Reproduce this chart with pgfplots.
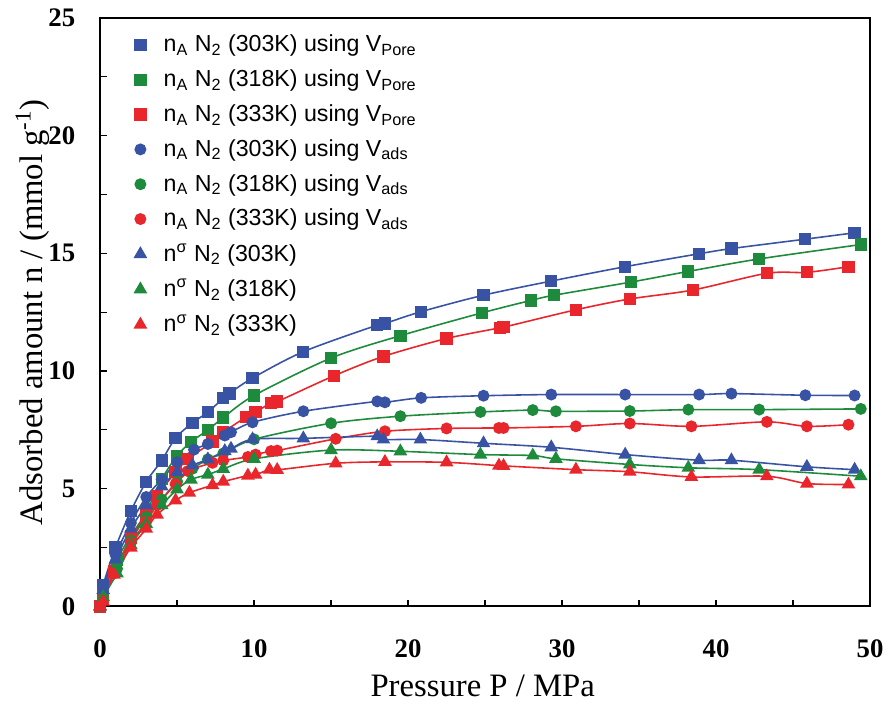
\documentclass[border=0pt]{standalone}
\usepackage{fontspec}
\setmainfont{Liberation Serif}
\newfontfamily\legendfont{Liberation Sans}
\usepackage{pgfplots}
\pgfplotsset{compat=1.18}
\usepackage{pgfplotstable}
\definecolor{cb}{HTML}{3953A4}
\definecolor{cg}{HTML}{1E8A3C}
\definecolor{cr}{HTML}{E8262B}

\pgfplotstableread{
x y
0 0
0.2 0.9
1.0 2.5
2.0 4.05
3.0 5.3
4.0 6.2
4.9 7.15
6.0 7.8
7.0 8.25
8.0 8.85
8.4 9.05
9.9 9.7
13.2 10.82
18.0 11.95
18.5 12.02
20.85 12.52
24.9 13.22
29.3 13.82
34.1 14.43
38.9 14.98
41.0 15.2
45.8 15.6
49.0 15.87
}\bsq
\pgfplotstableread{
x y
0 0
0.2 0.6
1.1 2.0
2.0 3.0
3.0 4.0
4.0 5.4
5.0 6.4
5.9 6.98
7.0 7.5
8.0 8.02
10.0 8.96
15.0 10.55
19.5 11.5
24.8 12.47
28.0 13.0
29.5 13.22
34.5 13.78
38.2 14.23
42.8 14.76
49.4 15.37
}\gsq
\pgfplotstableread{
x y
0 0
0.2 0.4
0.9 1.5
2.0 2.9
3.0 3.9
3.7 4.7
4.9 5.7
5.7 6.25
7.3 7.0
8.0 7.4
9.5 8.05
10.1 8.25
11.1 8.65
11.5 8.7
15.2 9.8
18.4 10.62
22.5 11.38
25.95 11.83
26.2 11.86
30.9 12.6
34.4 13.06
38.5 13.44
43.3 14.15
45.9 14.19
48.6 14.43
}\rsq
\pgfplotstableread{
x y
0 0
0.2 0.8
1.0 2.2
2.0 3.55
3.0 4.65
4.0 5.4
5.0 6.13
6.1 6.66
7.0 6.9
8.1 7.26
8.5 7.4
9.9 7.82
13.2 8.29
18.0 8.71
18.5 8.67
20.85 8.86
24.9 8.95
29.3 9.0
34.1 9.0
38.9 9.0
41.0 9.04
45.8 8.97
49.0 8.96
}\bci
\pgfplotstableread{
x y
0 0
0.2 0.5
1.1 1.6
2.0 2.8
3.0 3.8
4.0 4.55
5.0 5.3
6.0 5.85
7.0 6.25
8.0 6.5
10.0 7.1
15.0 7.78
19.5 8.08
24.7 8.26
28.1 8.34
29.6 8.29
34.4 8.3
38.2 8.36
42.8 8.36
49.4 8.39
}\gci
\pgfplotstableread{
x y
0 0
0.2 0.35
0.9 1.4
2.0 2.7
3.0 3.6
3.7 4.3
4.9 5.2
5.7 5.75
7.3 6.1
8.0 6.2
9.6 6.35
10.1 6.45
11.1 6.6
11.5 6.62
15.3 7.12
18.5 7.44
22.5 7.56
25.9 7.58
26.2 7.58
30.9 7.65
34.4 7.77
38.4 7.65
43.3 7.84
45.9 7.65
48.6 7.72
}\rci
\pgfplotstableread{
x y
0 0
0.2 0.7
1.0 2.0
2.0 3.3
3.0 4.3
4.0 5.1
5.0 5.7
6.0 6.0
7.0 6.25
8.1 6.6
8.5 6.7
9.9 7.1
13.2 7.14
18.0 7.23
18.4 7.09
20.8 7.09
24.9 6.93
29.3 6.76
34.1 6.45
38.9 6.21
41.0 6.21
45.9 5.93
49.0 5.81
}\btr
\pgfplotstableread{
x y
0 0
0.2 0.4
1.1 1.4
2.0 2.6
3.0 3.5
4.0 4.3
5.0 4.97
5.9 5.39
7.0 5.6
8.0 5.84
10.0 6.27
15.0 6.64
19.5 6.59
24.7 6.45
28.1 6.41
29.6 6.27
34.4 6.03
38.2 5.89
42.8 5.81
49.4 5.53
}\gtr
\pgfplotstableread{
x y
0 0
0.2 0.2
0.9 1.35
2.0 2.5
3.0 3.3
3.7 3.9
4.9 4.5
5.8 4.83
7.3 5.15
8.0 5.3
9.6 5.56
10.1 5.6
11.0 5.81
11.5 5.8
15.3 6.08
18.5 6.14
22.5 6.12
25.9 5.98
26.2 5.97
30.9 5.81
34.4 5.72
38.4 5.5
43.3 5.53
45.9 5.22
48.6 5.18
}\rtr

\begin{document}
\begin{tikzpicture}
\begin{axis}[
  scale only axis,
  width=388.5pt, height=297pt,
  xmin=0, xmax=50, ymin=0, ymax=25,
  xtick={0,10,20,30,40,50},
  ytick={0,5,10,15,20,25},
  minor tick num=1,
  tick pos=left,
  tick align=inside,
  major tick length=3.5pt,
  minor tick length=3.5pt,
  axis line style={line width=1pt},
  every tick/.style={black, line width=0.6pt},
  /pgf/number format/assume math mode=true,
  xticklabel style={font=\bfseries\fontsize{13.5}{16}\selectfont, yshift=-13pt},
  yticklabel style={font=\bfseries\fontsize{13.5}{16}\selectfont, xshift=-9pt},
  xlabel={Pressure P / MPa},
  ylabel={Adsorbed amount n / (mmol g\textsuperscript{-1})},
  label style={font=\fontsize{16.5}{19}\selectfont},
  xlabel style={at={(axis description cs:0.497,-0.135)}, anchor=center},
  ylabel style={at={(axis description cs:-0.0875,0.5)}, anchor=center},
  legend style={at={(axis description cs:0.037,0.985)}, anchor=north west,
    draw=none, fill=none, font=\legendfont\fontsize{11.7}{13}\selectfont,
    row sep=3.6pt, column sep=7pt},
  legend cell align=left,
  every axis plot/.append style={line width=0.8pt},
]
% curves
\addplot[cb, smooth, tension=0.5, forget plot] table {\bsq};
\addplot[cg, smooth, tension=0.5, forget plot] table {\gsq};
\addplot[cr, smooth, tension=0.5, forget plot] table {\rsq};
\addplot[cb, smooth, tension=0.5, forget plot] table {\bci};
\addplot[cg, smooth, tension=0.5, forget plot] table {\gci};
\addplot[cr, smooth, tension=0.5, forget plot] table {\rci};
\addplot[cb, smooth, tension=0.5, forget plot] table {\btr};
\addplot[cg, smooth, tension=0.5, forget plot] table {\gtr};
\addplot[cr, smooth, tension=0.5, forget plot] table {\rtr};
% markers
\addplot[only marks, mark=square*, mark size=2.7pt, cb] table {\bsq};
\addlegendentry{n\textsubscript{A} N\textsubscript{2} (303K) using V\textsubscript{Pore}}
\addplot[only marks, mark=square*, mark size=2.7pt, cg] table {\gsq};
\addlegendentry{n\textsubscript{A} N\textsubscript{2} (318K) using V\textsubscript{Pore}}
\addplot[only marks, mark=square*, mark size=2.7pt, cr] table {\rsq};
\addlegendentry{n\textsubscript{A} N\textsubscript{2} (333K) using V\textsubscript{Pore}}
\addplot[only marks, mark=*, mark size=2.6pt, cb] table {\bci};
\addlegendentry{n\textsubscript{A} N\textsubscript{2} (303K) using V\textsubscript{ads}}
\addplot[only marks, mark=*, mark size=2.6pt, cg] table {\gci};
\addlegendentry{n\textsubscript{A} N\textsubscript{2} (318K) using V\textsubscript{ads}}
\addplot[only marks, mark=*, mark size=2.6pt, cr] table {\rci};
\addlegendentry{n\textsubscript{A} N\textsubscript{2} (333K) using V\textsubscript{ads}}
\addplot[only marks, mark=triangle*, mark size=3.2pt, cb] table {\btr};
\addlegendentry{n\textsuperscript{σ} N\textsubscript{2} (303K)}
\addplot[only marks, mark=triangle*, mark size=3.2pt, cg] table {\gtr};
\addlegendentry{n\textsuperscript{σ} N\textsubscript{2} (318K)}
\addplot[only marks, mark=triangle*, mark size=3.2pt, cr] table {\rtr};
\addlegendentry{n\textsuperscript{σ} N\textsubscript{2} (333K)}
\end{axis}
\path ([xshift=-50.5pt,yshift=-48pt]current axis.south west)
  rectangle ([xshift=6pt,yshift=9pt]current axis.north east);
\end{tikzpicture}
\end{document}
